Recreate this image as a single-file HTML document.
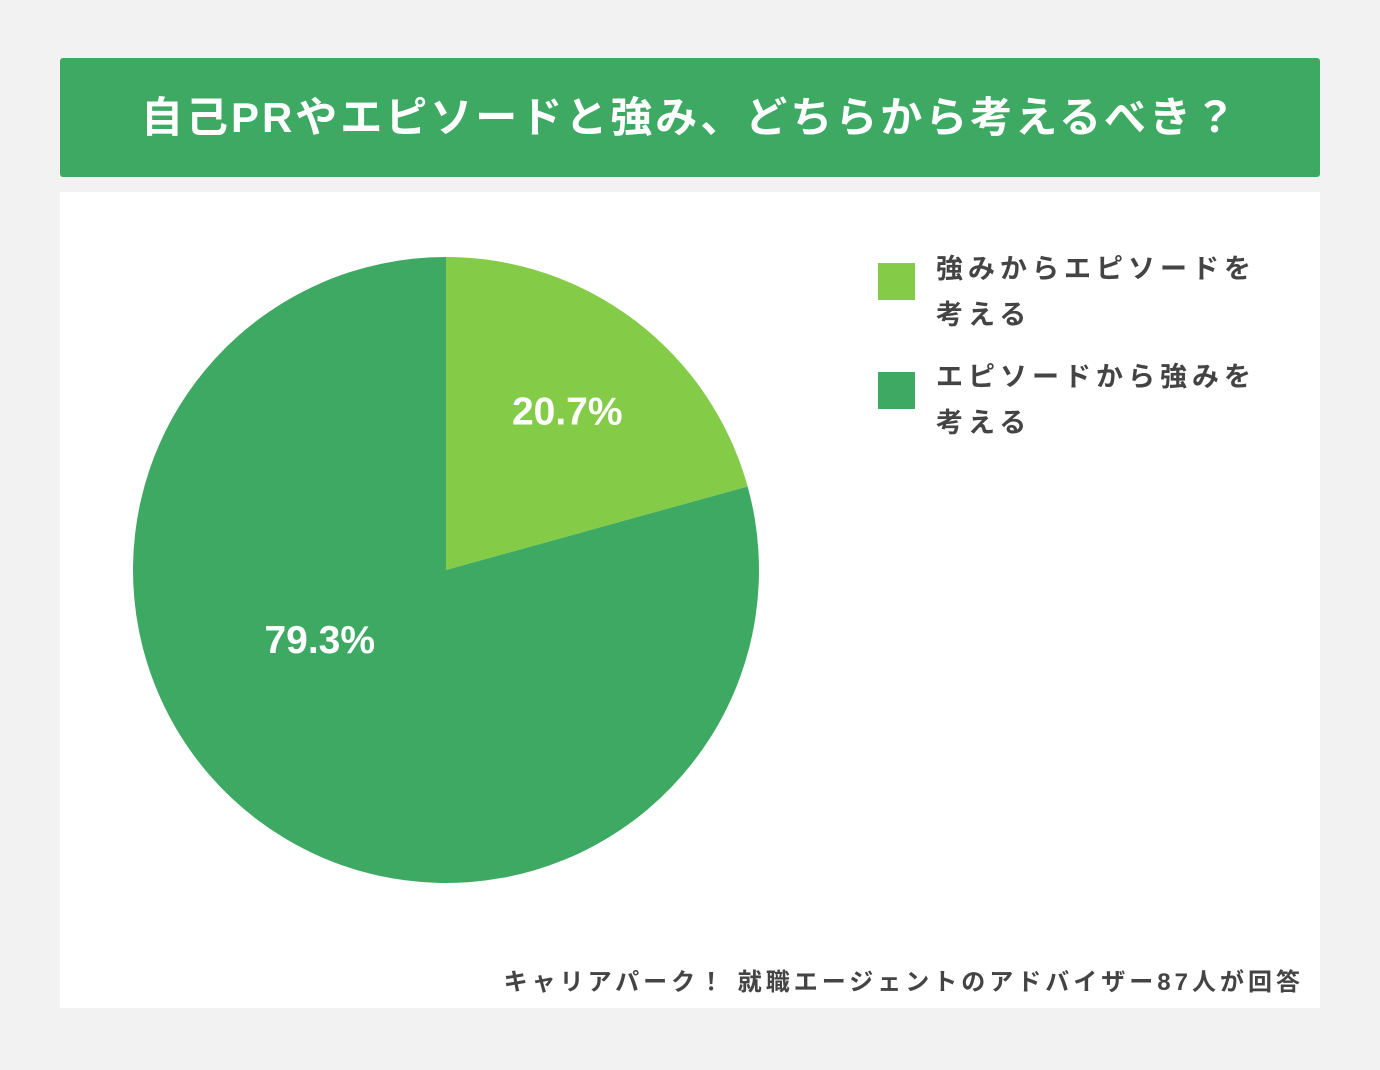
<!DOCTYPE html>
<html><head><meta charset="utf-8"><style>
body{margin:0;width:1380px;height:1070px;background:#f2f2f2;font-family:"Liberation Sans","Noto Sans CJK JP",sans-serif;position:relative;overflow:hidden}
#hdr{position:absolute;left:60px;top:58px;width:1260px;height:119px;background:#3ea963;border-radius:3px;color:#fff;font-weight:bold;font-size:42px;line-height:119px;text-align:center;letter-spacing:3px}
#panel{position:absolute;left:60px;top:192px;width:1260px;height:816px;background:#fff}
.lg{position:absolute;left:878px;font-size:27px;font-weight:bold;color:#444;line-height:46px;letter-spacing:5px}
.sw{position:absolute;left:878px;width:37px;height:37px}
#src{position:absolute;right:76px;top:962px;font-size:24px;font-weight:bold;color:#444;letter-spacing:4px}
</style></head><body>
<div id="hdr">自己PRやエピソードと強み、どちらから考えるべき？</div>
<div id="panel"></div>
<svg id="pie" width="1380" height="1070" style="position:absolute;left:0;top:0"></svg>
<div class="sw" style="top:263px;background:#84cc48"></div>
<div class="lg" style="left:936px;top:246px">強みからエピソードを<br>考える</div>
<div class="sw" style="top:372px;background:#3ea963"></div>
<div class="lg" style="left:936px;top:354px">エピソードから強みを<br>考える</div>
<div id="src">キャリアパーク！ 就職エージェントのアドバイザー87人が回答</div>
<script>
const categories=["強みからエピソードを考える","エピソードから強みを考える"];
const values=[20.7,79.3];
const labels=["20.7%","79.3%"];
const colors=["#84cc48","#3ea963"];
const svg=document.getElementById('pie');
const cx=446,cy=570,r=313,ns="http://www.w3.org/2000/svg";
const labelRad=[0.64,0.46], labelShift=[0,24*Math.PI/180];
const total=values.reduce((a,b)=>a+b,0);
let a0=0;
values.forEach((v,i)=>{
  const a1=a0+v/total*2*Math.PI;
  const p=a=>[cx+r*Math.sin(a),cy-r*Math.cos(a)];
  const [x0,y0]=p(a0),[x1,y1]=p(a1);
  const path=document.createElementNS(ns,'path');
  path.setAttribute('d',`M${cx},${cy}L${x0},${y0}A${r},${r} 0 ${a1-a0>Math.PI?1:0} 1 ${x1},${y1}Z`);
  path.setAttribute('fill',colors[i]);
  
  
  svg.appendChild(path);
  const m=(a0+a1)/2+labelShift[i], lr=r*labelRad[i];
  const t=document.createElementNS(ns,'text');
  t.setAttribute('x',cx+lr*Math.sin(m));
  t.setAttribute('y',cy-lr*Math.cos(m)+14);
  t.setAttribute('text-anchor','middle');
  t.setAttribute('fill','#fff');
  t.setAttribute('font-size','39');
  t.setAttribute('font-weight','bold');
  t.textContent=labels[i];
  
  
  svg.appendChild(t);
  a0=a1;
});
</script>
</body></html>
